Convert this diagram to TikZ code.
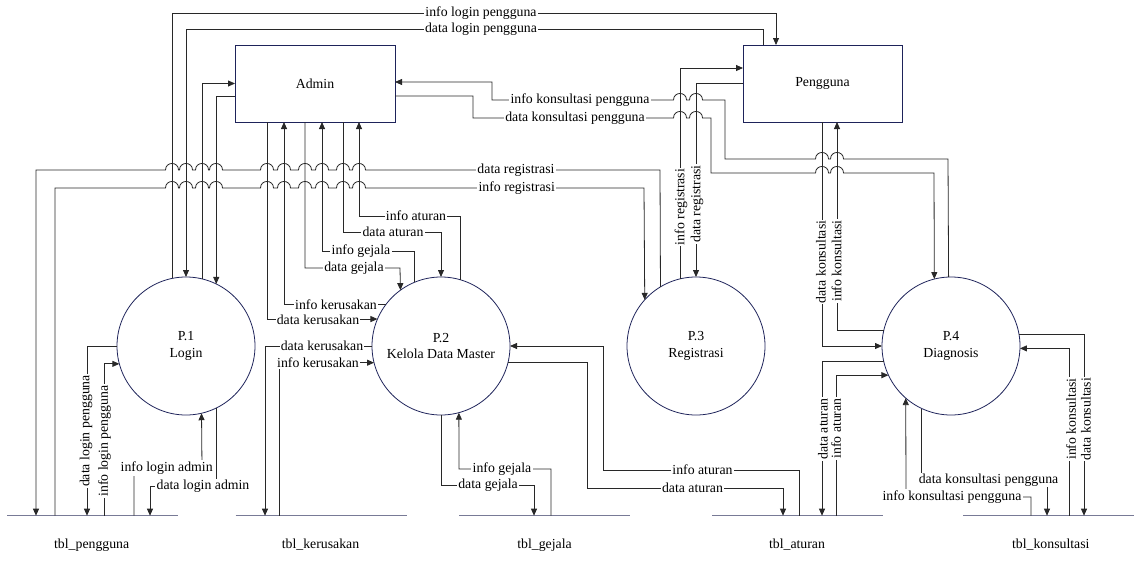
\documentclass[tikz,border=0pt]{standalone}
\usepackage{fontspec}
\setmainfont{Liberation Serif}
\usetikzlibrary{arrows.meta}
\definecolor{navy}{RGB}{30,35,90}
\definecolor{storec}{RGB}{120,122,150}
\definecolor{linec}{RGB}{40,40,40}
\begin{document}
\begin{tikzpicture}[x=1pt,y=-1pt,
  every node/.style={font=\fontsize{13.8}{16.5}\selectfont},
  proc/.style={circle,draw=navy,line width=0.8pt,minimum size=138pt,inner sep=0pt,outer sep=0pt,align=center},
  ent/.style={rectangle,draw=navy,line width=0.8pt,minimum width=160pt,minimum height=77pt,inner sep=0pt,outer sep=0pt},
  storenode/.style={inner sep=0pt,outer sep=0pt,minimum width=171pt,minimum height=0pt},
  storeline/.style={draw=storec,line width=1.4pt},
  fl/.style={draw=linec,line width=0.8pt},
  fla/.style={fl,-{Triangle[length=7pt,width=6pt]}},
  lab/.style={fill=white,inner sep=1.2pt},
  vlab/.style={lab,rotate=90},
]
\useasboundingbox (0,0) rectangle (1134,573);

% entities
\node[ent] (Admin) at (315,83.5) {Admin};
\node[ent,minimum width=159pt] (Peng) at (822.5,83.5) {Pengguna};
% processes
\node[proc] (P1) at (186,346) {P.1\\Login};
\node[proc] (P2) at (441,346) {P.2\\Kelola Data Master};
\node[proc] (P3) at (696,346) {P.3\\Registrasi};
\node[proc] (P4) at (951,346) {P.4\\Diagnosis};
% stores
\node[storenode] (S1) at (92.8,515.7) {};
\node[storenode] (S2) at (321,515.7) {};
\node[storenode] (S3) at (544.5,515.7) {};
\node[storenode] (S4) at (797.8,515.7) {};
\node[storenode] (S5) at (1048.5,515.7) {};
\foreach \s in {S1,S2,S3,S4,S5} \draw[storeline] (\s.west) -- (\s.east);
\node (L1) at (91.7,545) {tbl\_pengguna};
\node (L2) at (320.5,545) {tbl\_kerusakan};
\node (L3) at (544.5,545) {tbl\_gejala};
\node (L4) at (797,545) {tbl\_aturan};
\node (L5) at (1050.8,545) {tbl\_konsultasi};

% top lines P1 <-> Pengguna
\draw[fla] (P1.101.71) |- (776,13) -- (Peng.north -| 776,0);
\draw[fla] (Peng.north -| 763,0) |- (186,29) -- (P1.north);
% P1 <-> Admin
\draw[fla] (P1.76.59) |- (Admin.west);
\draw[fla] (Admin.west |- 0,96) -| (P1.64.23);

% registrasi lines with hops
\draw[fla] (P3.121.45) -- (660,170)
  \foreach \x in {359,343,322,305,284,267,216,202,186,172} { -- ({\x+6.5},170) .. controls +(0,-8.7) and +(0,-8.7) .. ({\x-6.5},170) }
  -- (36,170) -- (S1.north -| 36,0);
\draw[fla] (S1.north -| 55,0) -- (55,188)
  \foreach \x in {172,186,202,216,267,284,305,322,343,359} { -- ({\x-6.5},188) .. controls +(0,-8.7) and +(0,-8.7) .. ({\x+6.5},188) }
  -- (644,188) -- (P3.138.9);
% P3 <-> Pengguna
\draw[fla] (P3.103.41) |- (Peng.west |- 0,68);
\draw[fla] (Peng.west) -| (P3.north);

% konsultasi pengguna lines Admin <-> P4
\draw[fla] (P4.92.49) -- (948,159)
  \foreach \x in {837,822} { -- ({\x+6.5},159) .. controls +(0,-8.7) and +(0,-8.7) .. ({\x-6.5},159) }
  -- (725,159) -- (725,100)
  \foreach \x in {696,680} { -- ({\x+6.5},100) .. controls +(0,-8.7) and +(0,-8.7) .. ({\x-6.5},100) }
  -- (492,100) -- (492,82) -- (Admin.east |- 0,82);
\draw[fla] (Admin.east |- 0,96) -- (473,96) -- (473,118)
  \foreach \x in {680,696} { -- ({\x-6.5},118) .. controls +(0,-8.7) and +(0,-8.7) .. ({\x+6.5},118) }
  -- (711,118) -- (711,173)
  \foreach \x in {822,837} { -- ({\x-6.5},173) .. controls +(0,-8.7) and +(0,-8.7) .. ({\x+6.5},173) }
  -- (934,173) -- (P4.104.26);

% Admin <-> P2
\draw[fla] (Admin.south -| 267,0) |- (P2.157.86);
\draw[fla] (P2.143.54) -| (Admin.south -| 284,0);
\draw[fla] (Admin.south -| 305,0) |- (400,268) -- (P2.126.46);
\draw[fla] (P2.113.04) |- (322,251) -- (Admin.south -| 322,0);
\draw[fla] (Admin.south -| 343,0) |- (441,232) -- (P2.north);
\draw[fla] (P2.74.88) |- (359,216) -- (Admin.south -| 359,0);

% P2 <-> stores
\draw[fla] (P2.west) -| (S2.north -| 265,0);
\draw[fla] (S2.north -| 279,0) |- (P2.194.26);
\draw[fla] (S4.north -| 799,0) |- (603,470) |- (P2.east);
\draw[fla] (P2.346.59) -| (587,488) -| (S4.north -| 783,0);
\draw[fla] (P2.south) |- (534,485) -- (S3.north -| 534,0);
\draw[fla] (S3.north -| 551,0) |- (459,469) -- (P2.285.12);

% P1 <-> tbl_pengguna
\draw[fla] (P1.west) -| (S1.north -| 87,0);
\draw[fla] (S1.north -| 104,0) |- (P1.195.12);
\draw[fla] (S1.north -| 134,0) |- (202,468) -- (P1.283.41);
\draw[fla] (P1.296.70) |- (150,486) -- (S1.north -| 150,0);

% P4 <-> Pengguna
\draw[fla] (Peng.south -| 822,0) |- (P4.west);
\draw[fla] (P4.167.44) -| (Peng.south -| 837,0);
% P4 <-> tbl_aturan
\draw[fla] (P4.193.41) -| (S4.north -| 822,0);
\draw[fla] (S4.north -| 836,0) |- (P4.205.77);
% P4 <-> tbl_konsultasi
\draw[fla] (P4.10.01) -| (S5.north -| 1084,0);
\draw[fla] (S5.north -| 1069,0) |- (P4.358.34);
\draw[fla] (S5.north -| 1031,0) |- (906,497) -- (P4.229.29);
\draw[fla] (P4.245.15) |- (1047,480) -- (S5.north -| 1047,0);

% labels
\node[lab] (t1) at (481,13) {info login pengguna};
\node[lab] (t2) at (481,29) {data login pengguna};
\node[lab] (t3) at (516,170) {data registrasi};
\node[lab] (t4) at (516.7,188) {info registrasi};
\node[vlab] (t5) at (681,207) {info registrasi};
\node[vlab] (t6) at (697,204) {data registrasi};
\node[lab] (t7) at (580,100) {info konsultasi pengguna};
\node[lab] (t8) at (575,118) {data konsultasi pengguna};
\node[lab] (t9) at (318,320) {data kerusakan};
\node[lab] (t10) at (336,305) {info kerusakan};
\node[lab] (t11) at (354,268) {data gejala};
\node[lab] (t12) at (361,251) {info gejala};
\node[lab] (t13) at (393,232) {data aturan};
\node[lab] (t14) at (416,216) {info aturan};
\node[lab] (t15) at (322,346) {data kerusakan};
\node[lab] (t16) at (318,363) {info kerusakan};
\node[lab] (t17) at (702.5,470) {info aturan};
\node[lab] (t18) at (692.5,488) {data aturan};
\node[lab] (t19) at (488,485) {data gejala};
\node[lab] (t20) at (502,469) {info gejala};
\node[vlab] (t21) at (86,431) {data login pengguna};
\node[vlab] (t22) at (104.5,441) {info login pengguna};
\node[lab] (t23) at (166.7,468) {info login admin};
\node[lab] (t24) at (203,486) {data login admin};
\node[vlab] (t25) at (821,262) {data konsultasi};
\node[vlab] (t26) at (836.5,261) {info konsultasi};
\node[vlab] (t27) at (823,429) {data aturan};
\node[vlab] (t28) at (836,428.5) {info aturan};
\node[vlab] (t29) at (1071,419) {info konsultasi};
\node[vlab] (t30) at (1086,419) {data konsultasi};
\node[lab] (t31) at (952,497) {info konsultasi pengguna};
\node[lab] (t32) at (988.5,480) {data konsultasi pengguna};
\end{tikzpicture}
\end{document}
